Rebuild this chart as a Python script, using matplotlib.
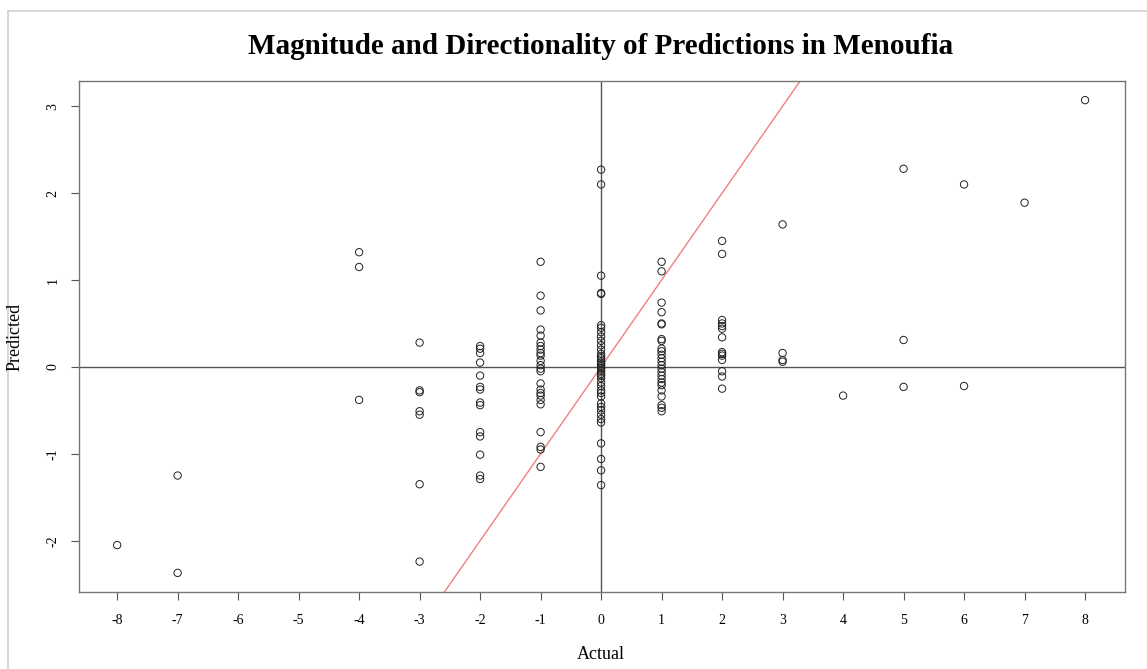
import matplotlib
matplotlib.use("Agg")
import matplotlib.pyplot as plt
from matplotlib.lines import Line2D
import numpy as np

# predicted values grouped by actual value
actual_vals = [-8, -7, -4, -3, -2, -1, 0, 1, 2, 3, 4, 5, 6, 7, 8]
predicted_by_actual = [
    [-2.05],
    [-1.25, -2.37],
    [1.32, 1.15, -0.38],
    [0.28, -0.27, -0.29, -0.51, -0.55, -1.35, -2.24],
    [0.24, 0.21, 0.16, 0.05, -0.10, -0.23, -0.26, -0.41, -0.44,
     -0.75, -0.80, -1.01, -1.25, -1.29],
    [1.21, 0.82, 0.65, 0.43, 0.36, 0.28, 0.24, 0.20, 0.16, 0.13, 0.07,
     0.02, -0.02, -0.05, -0.19, -0.26, -0.30, -0.33, -0.38, -0.43,
     -0.75, -0.92, -0.95, -1.15],
    [2.27, 2.10, 1.05, 0.85, 0.84, 0.48, 0.45, 0.40, 0.35, 0.30, 0.25,
     0.20, 0.15, 0.12, 0.10, 0.07, 0.05, 0.03, 0.01, -0.01, -0.03, -0.05,
     -0.08, -0.10, -0.13, -0.18, -0.22, -0.27, -0.30, -0.34, -0.42, -0.46,
     -0.50, -0.55, -0.60, -0.64, -0.88, -1.06, -1.19, -1.36],
    [1.21, 1.10, 0.74, 0.63, 0.50, 0.49, 0.32, 0.30, 0.21, 0.18, 0.14,
     0.10, 0.06, 0.02, -0.02, -0.06, -0.10, -0.14, -0.18, -0.21, -0.27,
     -0.34, -0.44, -0.47, -0.51],
    [1.45, 1.30, 0.54, 0.50, 0.47, 0.44, 0.34, 0.17, 0.15, 0.13, 0.08,
     -0.05, -0.11, -0.25],
    [1.64, 0.16, 0.08, 0.06],
    [-0.33],
    [2.28, 0.31, -0.23],
    [2.10, -0.22],
    [1.89],
    [3.07],
]
x_ticks = list(range(-8, 9))
y_ticks = [-2, -1, 0, 1, 2, 3]

xs = np.concatenate([[a] * len(p) for a, p in zip(actual_vals, predicted_by_actual)])
ys = np.concatenate(predicted_by_actual)

plt.rcParams['font.family'] = ['Liberation Serif', 'DejaVu Serif']

fig = plt.figure(figsize=(11.47, 6.69), dpi=100)
ax = fig.add_axes([0.0689, 0.1151, 0.9119, 0.7638])

ax.scatter(xs, ys, s=28, facecolors='none', edgecolors='#222222', linewidths=0.7, zorder=3)
ax.axhline(0, color='#555555', lw=1, zorder=1)
ax.axvline(0, color='#555555', lw=1, zorder=1)
ax.axline((0, 0), slope=1, color='#f08080', lw=1, zorder=2)

ax.set_xlim(-8.63, 8.66)
ax.set_ylim(-2.59, 3.29)
ax.set_xticks(x_ticks)
ax.set_yticks(y_ticks)
ax.set_xticklabels([str(t) for t in x_ticks], fontsize=10)
ax.set_yticklabels([str(t) for t in y_ticks], fontsize=10, rotation=90, va='center')
ax.tick_params(axis='both', direction='out', length=6, width=0.8, color='#555555')
ax.tick_params(axis='x', pad=10)
ax.tick_params(axis='y', pad=8)
for s in ax.spines.values():
    s.set_color('#777777')
    s.set_linewidth(1)

fig.text(0.524, 0.930, 'Magnitude and Directionality of Predictions in Menoufia',
         ha='center', va='center', fontsize=21, fontweight='bold')
fig.text(0.524, 0.021, 'Actual', ha='center', va='center', fontsize=13)
fig.text(0.013, 0.497, 'Predicted', ha='center', va='center', fontsize=13, rotation=90)

# page frame around the figure
fig.add_artist(Line2D([8 / 1147, 1], [1 - 11 / 669, 1 - 11 / 669], color='#d0d0d0', lw=1.2))
fig.add_artist(Line2D([8 / 1147, 8 / 1147], [0, 1 - 11 / 669], color='#d0d0d0', lw=1.2))

fig.savefig('out.png', dpi=100)
